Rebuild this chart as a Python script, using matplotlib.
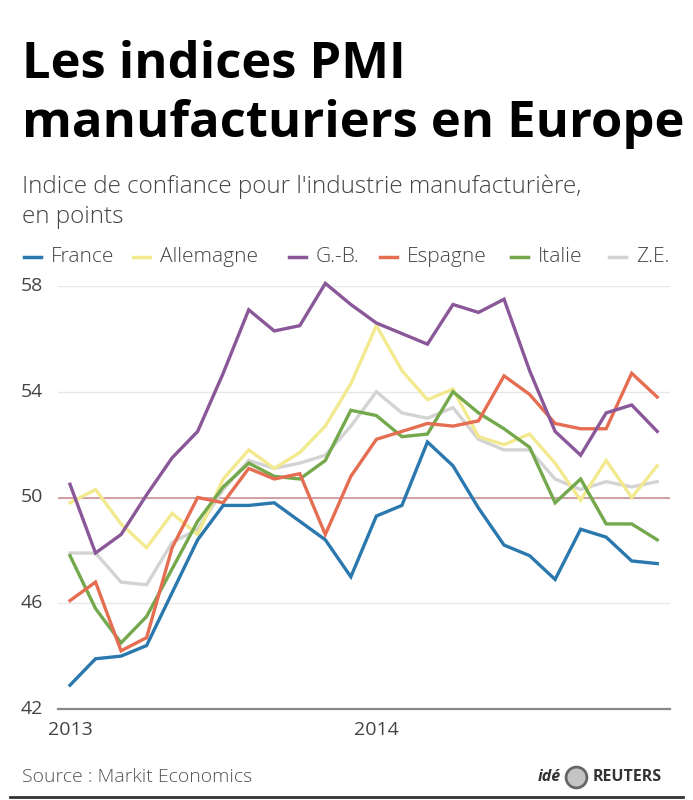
import matplotlib
matplotlib.use("Agg")
import matplotlib.pyplot as plt
from matplotlib.lines import Line2D

plt.rcParams['font.family'] = ['Open Sans', 'DejaVu Sans']

# Monthly manufacturing PMI, Jan 2013 - Dec 2014
months = list(range(24))
france = [42.9, 43.9, 44.0, 44.4, 46.4, 48.4, 49.7, 49.7, 49.8, 49.1, 48.4, 47.0,
          49.3, 49.7, 52.1, 51.2, 49.6, 48.2, 47.8, 46.9, 48.8, 48.5, 47.6, 47.5]
allemagne = [49.8, 50.3, 49.0, 48.1, 49.4, 48.6, 50.7, 51.8, 51.1, 51.7, 52.7, 54.3,
             56.5, 54.8, 53.7, 54.1, 52.3, 52.0, 52.4, 51.3, 49.9, 51.4, 50.0, 51.2]
gb = [50.5, 47.9, 48.6, 50.1, 51.5, 52.5, 54.7, 57.1, 56.3, 56.5, 58.1, 57.3,
      56.6, 56.2, 55.8, 57.3, 57.0, 57.5, 54.8, 52.5, 51.6, 53.2, 53.5, 52.5]
espagne = [46.1, 46.8, 44.2, 44.7, 48.1, 50.0, 49.8, 51.1, 50.7, 50.9, 48.6, 50.8,
           52.2, 52.5, 52.8, 52.7, 52.9, 54.6, 53.9, 52.8, 52.6, 52.6, 54.7, 53.8]
italie = [47.8, 45.8, 44.5, 45.5, 47.3, 49.1, 50.4, 51.3, 50.8, 50.7, 51.4, 53.3,
          53.1, 52.3, 52.4, 54.0, 53.2, 52.6, 51.9, 49.8, 50.7, 49.0, 49.0, 48.4]
ze = [47.9, 47.9, 46.8, 46.7, 48.3, 48.8, 50.3, 51.4, 51.1, 51.3, 51.6, 52.7,
      54.0, 53.2, 53.0, 53.4, 52.2, 51.8, 51.8, 50.7, 50.3, 50.6, 50.4, 50.6]

series = [
    ("France", france, "#2a78ad"),
    ("Allemagne", allemagne, "#f3e98e"),
    ("G.-B.", gb, "#8a5799"),
    ("Espagne", espagne, "#e56e52"),
    ("Italie", italie, "#74a84c"),
    ("Z.E.", ze, "#d3d3d3"),
]
yticks = [42, 46, 50, 54, 58]
year_labels = ["2013", "2014"]
year_pos = [0, 12]

W, H = 693, 800
fig = plt.figure(figsize=(W / 100, H / 100), dpi=100)

ax = fig.add_axes([58 / W, 91 / H, (670 - 58) / W, (709 - 286) / H])
ax.set_xlim(-0.47, 23.5)
ax.set_ylim(42, 58)

for y in yticks[1:]:
    ax.axhline(y, color="#e8e8e8", lw=1.0, zorder=1)
ax.axhline(50, color="#c98a8f", lw=1.1, zorder=2)
ax.axhline(42, color="#888888", lw=1.6, zorder=2, clip_on=False)

# draw grey first so coloured lines sit on top
draw_order = [5, 1, 4, 3, 2, 0]
for i in draw_order:
    name, vals, col = series[i]
    ax.plot(months, vals, color=col, lw=2.4, zorder=3 + draw_order.index(i),
            clip_on=False, solid_joinstyle="miter")

for s in ax.spines.values():
    s.set_visible(False)
ax.set_xticks([])
ax.set_yticks([])

ytrans = ax.get_yaxis_transform()
for y in yticks:
    ax.text(-0.024, y, str(y), ha="right", va="center", fontsize=14,
            color="#444444", transform=ytrans)
for lab, p in zip(year_labels, year_pos):
    ax.text(p, 41.55, lab, ha="center", va="top", fontsize=14,
            color="#444444", transform=ax.transData)

# title block
fig.text(22 / W, 1 - 78 / H, "Les indices PMI", fontsize=36.5, fontweight="bold",
         color="black", ha="left", va="baseline")
fig.text(22 / W, 1 - 137 / H, "manufacturiers en Europe", fontsize=36.5,
         fontweight="bold", color="black", ha="left", va="baseline")
fig.text(22 / W, 1 - 193 / H, "Indice de confiance pour l'industrie manufacturière,",
         fontsize=17.5, fontweight="light", color="#444444", ha="left", va="baseline")
fig.text(22 / W, 1 - 223 / H, "en points", fontsize=17.5, fontweight="light",
         color="#444444", ha="left", va="baseline")

# legend
leg_x = [24, 133, 289, 380, 511, 609]
for (name, vals, col), x0 in zip(series, leg_x):
    yl = 1 - 257 / H
    fig.add_artist(Line2D([x0 / W, (x0 + 17) / W], [yl, yl], color=col, lw=2.5))
    fig.text((x0 + 27) / W, yl, name, fontsize=15, fontweight="light",
             color="#444444", ha="left", va="center")

# footer
fig.text(22 / W, 1 - 777 / H, "Source : Markit Economics", fontsize=14,
         fontweight="light", color="#555555", ha="left", va="center")
fig.text(561 / W, 1 - 777 / H, "idé", fontsize=11.5, fontweight="bold",
         style="italic", color="#333333", ha="right", va="center")
fig.add_artist(Line2D([576 / W], [1 - 777 / H], marker="o", markersize=15,
                      markerfacecolor="#c4c4c4", markeredgecolor="#666666",
                      markeredgewidth=2))
fig.text(593 / W, 1 - 777 / H, "REUTERS", fontsize=11.5, fontweight="bold",
         color="#333333", ha="left", va="center")
fig.add_artist(Line2D([10 / W, 683 / W], [1 - 797 / H, 1 - 797 / H],
                      color="#333333", lw=2))

fig.savefig("out.png", dpi=100, facecolor="white")
